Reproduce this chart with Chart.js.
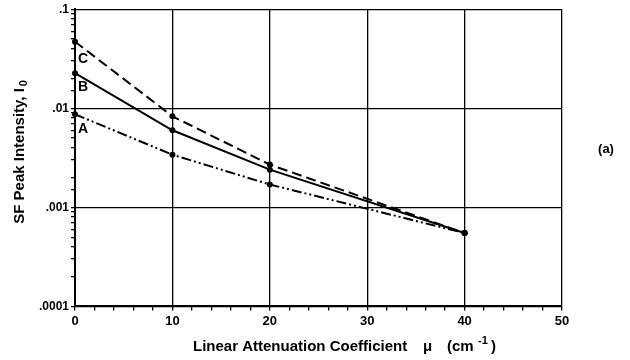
<!DOCTYPE html>
<html>
<head>
<meta charset="utf-8">
<script src="https://cdn.jsdelivr.net/npm/chart.js@4/dist/chart.umd.min.js"></script>
<style>
  html, body { margin: 0; padding: 0; background: #fff; }
  #wrap { width: 630px; height: 360px; position: relative; }
</style>
</head>
<body>
<div id="wrap"><canvas id="chart"></canvas></div>
<script>
// Data
const muValues = [0, 10, 20, 40];
const curveC = [0.047, 0.0083, 0.0027, 0.00055];
const curveB = [0.0226, 0.0060, 0.0024, 0.00055];
const curveA = [0.0087, 0.0034, 0.0017, 0.00055];
const curveNames = ['C', 'B', 'A'];
const labelPos = [[0.3, 0.031], [0.3, 0.0163], [0.3, 0.0061]];

const yTitle = 'SF Peak Intensity, I';
const ySub = '0';
const xTitle = 'Linear Attenuation Coefficient';
const xMu = '\u03bc';
const xUnit = '(cm';
const xSup = '-1';
const panelTag = '(a)';

const FONT = '"Liberation Sans", Arial, sans-serif';

function toPoints(ys) {
    return muValues.map((x, i) => ({ x: x, y: ys[i] }));
}

function isDecade(v) {
    const l = Math.log10(v);
    return Math.abs(l - Math.round(l)) < 1e-9;
}

// Draws the curve letters, the axis titles and the panel tag
const textPlugin = {
    id: 'textPlugin',
    afterDraw(chart) {
        const ctx = chart.ctx;
        const xs = chart.scales.x, ys = chart.scales.y;
        ctx.save();
        ctx.fillStyle = '#000';
        ctx.font = 'bold 14px ' + FONT;
        ctx.textAlign = 'left';
        ctx.textBaseline = 'middle';
        curveNames.forEach((n, i) => {
            ctx.fillText(n, xs.getPixelForValue(labelPos[i][0]), ys.getPixelForValue(labelPos[i][1]));
        });

        // x axis title, pieced together
        ctx.textBaseline = 'alphabetic';
        ctx.font = 'bold 15px ' + FONT;
        ctx.fillText(xTitle, 193, 351);
        ctx.fillText(xMu, 423, 351);
        ctx.fillText(xUnit, 447, 351);
        ctx.fillText(')', 491, 351);
        ctx.font = 'bold 11px ' + FONT;
        ctx.fillText(xSup, 478, 344);

        // y axis title, rotated
        ctx.translate(24, 152);
        ctx.rotate(-Math.PI / 2);
        ctx.font = 'bold 15px ' + FONT;
        ctx.textAlign = 'left';
        const w = ctx.measureText(yTitle).width;
        const start = -(w + 8) / 2;
        ctx.fillText(yTitle, start, 0);
        ctx.font = 'bold 11px ' + FONT;
        ctx.fillText(ySub, start + w + 2, 3);
        ctx.restore();

        ctx.save();
        ctx.font = 'bold 13px ' + FONT;
        ctx.textAlign = 'center';
        ctx.textBaseline = 'middle';
        ctx.fillText(panelTag, 606, 149);
        ctx.restore();
    }
};

const lineStyle = {
    borderColor: '#000',
    backgroundColor: '#000',
    borderWidth: 2,
    pointRadius: 3,
    pointBackgroundColor: '#000',
    pointBorderWidth: 0,
    fill: false,
    tension: 0,
    clip: false
};

new Chart(document.getElementById('chart'), {
    type: 'line',
    data: {
        datasets: [
            Object.assign({ label: 'C', data: toPoints(curveC), borderDash: [10, 5] }, lineStyle),
            Object.assign({ label: 'B', data: toPoints(curveB), borderDash: [] }, lineStyle),
            Object.assign({ label: 'A', data: toPoints(curveA), borderDash: [10, 3, 2, 3, 2, 3] }, lineStyle)
        ]
    },
    options: {
        responsive: true,
        maintainAspectRatio: false,
        animation: false,
        layout: { padding: { left: 37, right: 68, top: -6, bottom: 28 } },
        plugins: {
            legend: { display: false },
            tooltip: { enabled: false }
        },
        scales: {
            x: {
                type: 'linear',
                min: 0,
                max: 50,
                ticks: {
                    stepSize: 2,
                    autoSkip: false,
                    maxRotation: 0,
                    color: '#000',
                    font: { family: FONT, size: 13, weight: 'bold' },
                    padding: 3,
                    callback: v => (v % 10 === 0 ? String(v) : '')
                },
                grid: {
                    color: c => (c.tick && c.tick.value % 10 === 0 ? '#000' : 'rgba(0,0,0,0)'),
                    tickColor: '#000',
                    tickLength: 4,
                    lineWidth: 1.3
                },
                border: { display: true, color: '#000', width: 2 }
            },
            y: {
                type: 'logarithmic',
                min: 0.0001,
                max: 0.1,
                ticks: {
                    autoSkip: false,
                    color: '#000',
                    font: { family: FONT, size: 12, weight: 'bold' },
                    padding: 2,
                    callback: v => (isDecade(v) ? String(v).replace(/^0/, '') : '')
                },
                grid: {
                    color: c => (c.tick && isDecade(c.tick.value) ? '#000' : 'rgba(0,0,0,0)'),
                    tickColor: '#000',
                    tickLength: 4,
                    lineWidth: 1.3
                },
                border: { display: true, color: '#000', width: 2 }
            }
        }
    },
    plugins: [textPlugin]
});
</script>
</body>
</html>
